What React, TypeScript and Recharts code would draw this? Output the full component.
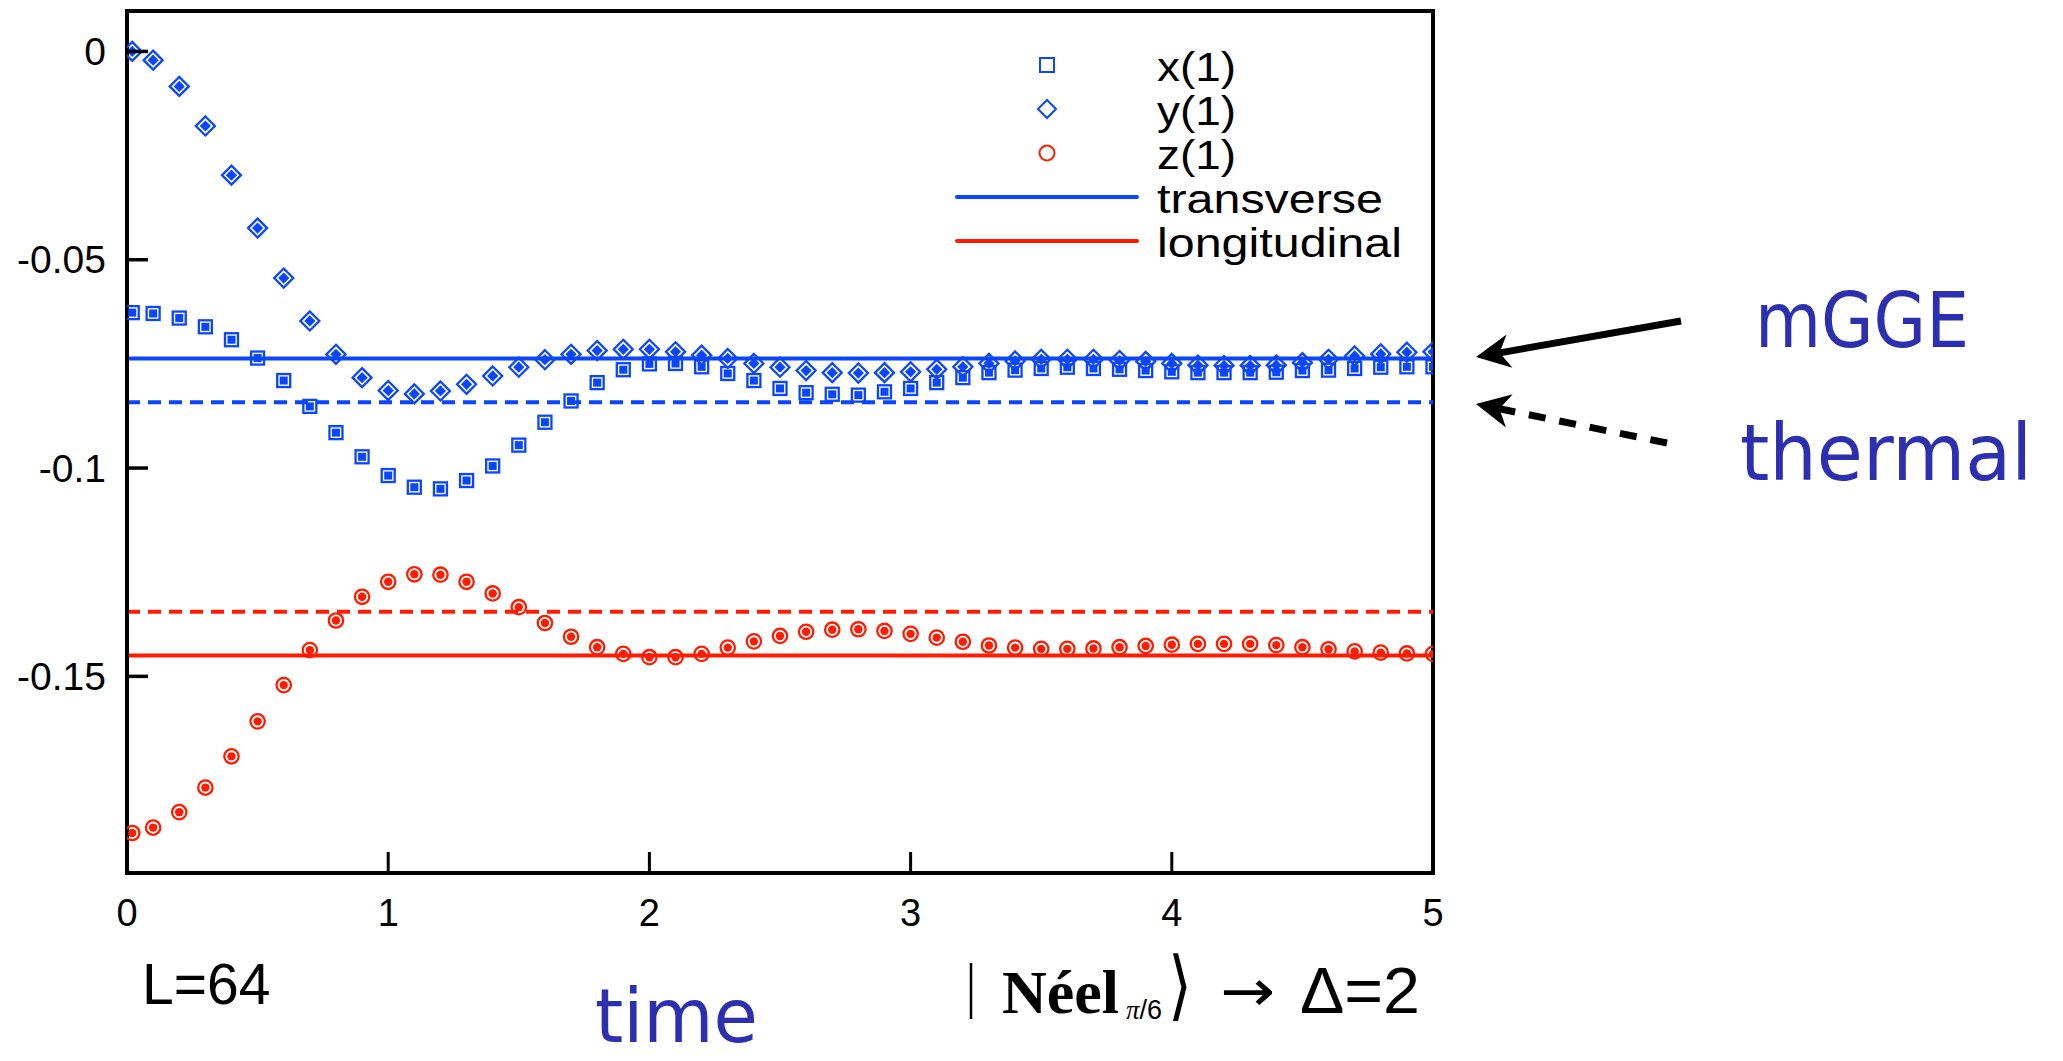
import React from "react";
import { ScatterChart, Scatter, XAxis, YAxis, ReferenceLine, ReferenceArea, Legend } from "recharts";

// sampling times (first sample sits just right of t = 0)
const times = [
  0.02, 0.1, 0.2, 0.3, 0.4, 0.5, 0.6, 0.7, 0.8, 0.9, 1.0, 1.1, 1.2, 1.3, 1.4, 1.5, 1.6,
  1.7, 1.8, 1.9, 2.0, 2.1, 2.2, 2.3, 2.4, 2.5, 2.6, 2.7, 2.8, 2.9, 3.0, 3.1, 3.2, 3.3,
  3.4, 3.5, 3.6, 3.7, 3.8, 3.9, 4.0, 4.1, 4.2, 4.3, 4.4, 4.5, 4.6, 4.7, 4.8, 4.9, 5.0,
];

const xVals = [
  -0.0627, -0.0629, -0.064, -0.0661, -0.0692, -0.0736, -0.079, -0.0852, -0.0915, -0.0973,
  -0.1018, -0.1046, -0.105, -0.103, -0.0995, -0.0945, -0.089, -0.0839, -0.0795, -0.0764,
  -0.075, -0.0749, -0.0757, -0.0773, -0.079, -0.0809, -0.0819, -0.0823, -0.0825, -0.0817,
  -0.0809, -0.0795, -0.0783, -0.0771, -0.0765, -0.0761, -0.0758, -0.0761, -0.0763, -0.0766,
  -0.0769, -0.0771, -0.0771, -0.0771, -0.077, -0.0766, -0.0765, -0.0761, -0.0758, -0.0757,
  -0.0757,
];

const yVals = [
  0.0, -0.0021, -0.0084, -0.0179, -0.0297, -0.0424, -0.0544, -0.0647, -0.0727, -0.0783,
  -0.0814, -0.0822, -0.0815, -0.0799, -0.0779, -0.0758, -0.074, -0.0727, -0.0718, -0.0715,
  -0.0715, -0.0721, -0.0729, -0.0737, -0.0749, -0.0758, -0.0766, -0.0771, -0.0772, -0.0771,
  -0.0769, -0.0763, -0.0757, -0.0749, -0.0743, -0.0739, -0.0739, -0.0739, -0.0742, -0.0744,
  -0.0749, -0.0753, -0.0754, -0.0754, -0.0753, -0.0747, -0.0739, -0.0731, -0.0726, -0.0722,
  -0.0721,
];

const zVals = [
  -0.1876, -0.1863, -0.1826, -0.1767, -0.1692, -0.1608, -0.1521, -0.1437, -0.1366, -0.1309,
  -0.1273, -0.1255, -0.1256, -0.1273, -0.1301, -0.1334, -0.1372, -0.1405, -0.143, -0.1446,
  -0.1454, -0.1454, -0.1446, -0.1431, -0.1416, -0.1403, -0.1393, -0.1388, -0.1387, -0.1391,
  -0.1398, -0.1407, -0.1417, -0.1426, -0.1431, -0.1434, -0.1434, -0.1433, -0.143, -0.1427,
  -0.1424, -0.1422, -0.1422, -0.1422, -0.1425, -0.143, -0.1435, -0.144, -0.1443, -0.1445,
  -0.1446,
];

// [mGGE, thermal]
const transverseLevels = [-0.0737, -0.0842];
const longitudinalLevels = [-0.145, -0.1345];

const xTicks = [0, 1, 2, 3, 4, 5];
const yTicks = [-0.15, -0.1, -0.05, 0];
const legendLabels = ["x(1)", "y(1)", "z(1)", "transverse", "longitudinal"];

const BLUE = "#0a46ff";
const RED = "#ff1c00";
const INK = "#2b2fb0";
const SANS = "'Liberation Sans', Arial, sans-serif";
const HAND = "'DejaVu Sans', sans-serif";

const X_MIN = 0;
const X_MAX = 5;
const Y_MIN = -0.1972;
const Y_MAX = 0.0097;

const xData = times.map((t, i) => ({ t, v: xVals[i] }));
const yData = times.map((t, i) => ({ t, v: yVals[i] }));
const zData = times.map((t, i) => ({ t, v: zVals[i] }));

const SquareMark = ({ cx, cy }: any) => (
  <g>
    <rect x={cx - 6.5} y={cy - 6.5} width={13} height={13} fill="none" stroke={BLUE} strokeWidth={2.3} />
    <rect x={cx - 4} y={cy - 4} width={8} height={8} fill={BLUE} />
  </g>
);

const DiamondMark = ({ cx, cy }: any) => (
  <g>
    <polygon
      points={`${cx},${cy - 9.5} ${cx + 9.5},${cy} ${cx},${cy + 9.5} ${cx - 9.5},${cy}`}
      fill="none"
      stroke={BLUE}
      strokeWidth={2.3}
    />
    <polygon points={`${cx},${cy - 5.6} ${cx + 5.6},${cy} ${cx},${cy + 5.6} ${cx - 5.6},${cy}`} fill={BLUE} />
  </g>
);

const CircleMark = ({ cx, cy }: any) => (
  <g>
    <circle cx={cx} cy={cy} r={7.2} fill="none" stroke={RED} strokeWidth={2.3} />
    <circle cx={cx} cy={cy} r={4.2} fill={RED} />
  </g>
);

const Y_TICK_GAP = 21;

const YTick = ({ x, y, payload }: any) => {
  const ax = x + Y_TICK_GAP;
  return (
    <g>
      <line x1={ax} x2={ax + 21} y1={y} y2={y} stroke="#000" strokeWidth={3.5} />
      <text x={x} y={y + 13.5} textAnchor="end" fontSize={39} fontFamily={SANS} fill="#000">
        {payload.value}
      </text>
    </g>
  );
};

const XTick = ({ x, y, payload }: any) => (
  <g>
    <line x1={x} x2={x} y1={y} y2={y - 21} stroke="#000" strokeWidth={3} />
    <text x={x} y={y + 53} textAnchor="middle" fontSize={38} fontFamily={SANS} fill="#000">
      {payload.value}
    </text>
  </g>
);

// widths of the (slightly stretched) legend words in the original
const legendTextWidth = [79, 79, 79, 226, 245];

const LegendBox = () => {
  const rowY = (i: number) => 25 + i * 44;
  const mx = 107;
  return (
    <svg width={500} height={230} style={{ display: "block" }}>
      <rect x={mx - 7} y={rowY(0) - 7} width={14} height={14} fill="none" stroke={BLUE} strokeWidth={2} />
      <polygon
        points={`${mx},${rowY(1) - 9} ${mx + 9},${rowY(1)} ${mx},${rowY(1) + 9} ${mx - 9},${rowY(1)}`}
        fill="none"
        stroke={BLUE}
        strokeWidth={2}
      />
      <circle cx={mx} cy={rowY(2)} r={7.5} fill="none" stroke={RED} strokeWidth={2} />
      <line x1={17} x2={197} y1={rowY(3)} y2={rowY(3)} stroke={BLUE} strokeWidth={4} strokeLinecap="round" />
      <line x1={17} x2={197} y1={rowY(4)} y2={rowY(4)} stroke={RED} strokeWidth={4} strokeLinecap="round" />
      {legendLabels.map((label, i) => (
        <text
          key={label}
          x={217}
          y={rowY(i) + 15.5}
          fontSize={41}
          fontFamily={SANS}
          fill="#000"
          textLength={legendTextWidth[i]}
          lengthAdjust="spacingAndGlyphs"
        >
          {label}
        </text>
      ))}
    </svg>
  );
};

function arrowParts(x1: number, y1: number, x2: number, y2: number) {
  const len = Math.hypot(x2 - x1, y2 - y1);
  const ux = (x2 - x1) / len;
  const uy = (y2 - y1) / len;
  const nx = -uy;
  const ny = ux;
  const back = 34;
  const half = 17;
  const notch = 24;
  const bx = x2 - ux * back;
  const by = y2 - uy * back;
  const sx = x2 - ux * notch;
  const sy = y2 - uy * notch;
  const head = `${x2},${y2} ${bx + nx * half},${by + ny * half} ${sx},${sy} ${bx - nx * half},${by - ny * half}`;
  return { head, sx, sy };
}

const Annotations = () => {
  const solid = arrowParts(1681, 321, 1476, 357);
  const dashed = arrowParts(1667, 443, 1476, 404);
  return (
    <svg
      width={2063}
      height={1061}
      style={{ position: "absolute", left: 0, top: 0, pointerEvents: "none" }}
    >
      <line x1={1681} y1={321} x2={solid.sx} y2={solid.sy} stroke="#000" strokeWidth={7} />
      <polygon points={solid.head} fill="#000" />
      <line x1={1667} y1={443} x2={dashed.sx} y2={dashed.sy} stroke="#000" strokeWidth={7} strokeDasharray="17 14" />
      <polygon points={dashed.head} fill="#000" />

      <text x={1755} y={347} fontSize={76} fontFamily={HAND} fill={INK} textLength={214} lengthAdjust="spacingAndGlyphs">
        mGGE
      </text>
      <text x={1740} y={480} fontSize={78} fontFamily={HAND} fill={INK} textLength={292} lengthAdjust="spacingAndGlyphs">
        thermal
      </text>
      <text x={595} y={1042} fontSize={74} fontFamily={HAND} fill={INK} textLength={163} lengthAdjust="spacingAndGlyphs">
        time
      </text>

      <text x={142} y={1004} fontSize={57} fontFamily={SANS} fill="#000">
        L=64
      </text>

      <line x1={971} y1={963} x2={971} y2={1019} stroke="#000" strokeWidth={2.5} />
      <text x={1002} y={1013} fontSize={62} fontWeight="bold" fontFamily="'Liberation Serif', 'Times New Roman', serif" fill="#000">
        Néel
      </text>
      <text x={1126} y={1019} fontSize={27} fill="#000">
        <tspan fontStyle="italic" fontFamily="'Liberation Serif', serif">π</tspan>
        <tspan fontFamily={SANS}>/6</tspan>
      </text>
      <text x={1168} y={1011} fontSize={76} fontFamily={HAND} fill="#000" textLength={24} lengthAdjust="spacingAndGlyphs">
        ⟩
      </text>
      <text x={1220} y={1011} fontSize={58} fontFamily={HAND} fill="#000" textLength={55} lengthAdjust="spacingAndGlyphs">
        →
      </text>
      <text x={1300} y={1013} fontSize={64} fontFamily={SANS} fill="#000" textLength={120} lengthAdjust="spacingAndGlyphs">
        Δ=2
      </text>
    </svg>
  );
};

export default function App() {
  return (
    <div style={{ position: "absolute", left: 0, top: 0, width: 2063, height: 1061, background: "#fff" }}>
      <ScatterChart width={2063} height={1061} margin={{ top: 11, right: 630, left: 0, bottom: 128 }}>
        <XAxis
          type="number"
          dataKey="t"
          domain={[X_MIN, X_MAX]}
          ticks={xTicks}
          interval={0}
          allowDataOverflow
          height={60}
          tickLine={false}
          tickSize={0}
          tickMargin={0}
          axisLine={{ stroke: "#000", strokeWidth: 4 }}
          tick={<XTick />}
        />
        <YAxis
          type="number"
          dataKey="v"
          domain={[Y_MIN, Y_MAX]}
          ticks={yTicks}
          interval={0}
          allowDataOverflow
          width={127}
          tickLine={false}
          tickSize={0}
          tickMargin={Y_TICK_GAP}
          axisLine={{ stroke: "#000", strokeWidth: 4 }}
          tick={<YTick />}
        />
        <ReferenceArea
          x1={X_MIN}
          x2={X_MAX}
          y1={Y_MIN}
          y2={Y_MAX}
          fill="none"
          fillOpacity={0}
          stroke="#000"
          strokeWidth={4}
          ifOverflow="visible"
        />
        <ReferenceLine y={transverseLevels[0]} stroke={BLUE} strokeWidth={4} />
        <ReferenceLine y={transverseLevels[1]} stroke={BLUE} strokeWidth={4} strokeDasharray="13 8" />
        <ReferenceLine y={longitudinalLevels[0]} stroke={RED} strokeWidth={4} />
        <ReferenceLine y={longitudinalLevels[1]} stroke={RED} strokeWidth={4} strokeDasharray="13 8" />
        <Scatter name="x(1)" data={xData} isAnimationActive={false} shape={(p: any) => <SquareMark cx={p.cx} cy={p.cy} />} />
        <Scatter name="y(1)" data={yData} isAnimationActive={false} shape={(p: any) => <DiamondMark cx={p.cx} cy={p.cy} />} />
        <Scatter name="z(1)" data={zData} isAnimationActive={false} shape={(p: any) => <CircleMark cx={p.cx} cy={p.cy} />} />
        <Legend
          layout="horizontal"
          verticalAlign="middle"
          align="center"
          wrapperStyle={{ left: 940, top: 40, width: 500, height: 230 }}
          content={() => <LegendBox />}
        />
      </ScatterChart>
      <Annotations />
    </div>
  );
}
